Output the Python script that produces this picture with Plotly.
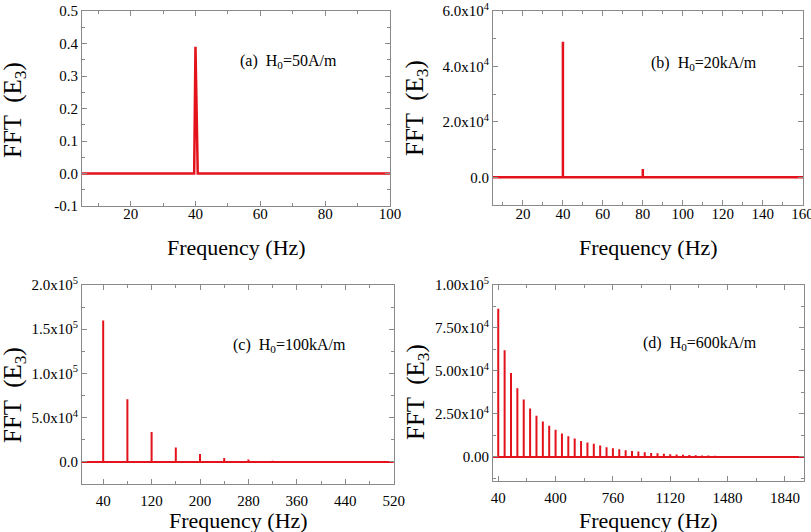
import plotly.graph_objects as go

# ---------------- data ----------------
# (a) H0 = 50 A/m : single narrow peak near 40 Hz
freq_a = [5, 39.6, 40.0, 40.3, 40.7, 100]
amp_a = [0, 0, 0.39, 0.20, 0, 0]

# (b) H0 = 20 kA/m
harm_b = [40, 80]
amp_b = [4.89e4, 3.0e3]

# (c) H0 = 100 kA/m
harm_c = [40, 80, 120, 160, 200, 240, 280, 320, 360]
amp_c = [1.60e5, 7.08e4, 3.39e4, 1.62e4, 9.0e3, 4.5e3, 2.6e3, 1.2e3, 6.0e2]

# (d) H0 = 600 kA/m : harmonics every 40 Hz up to 1480 Hz
harm_d = [40 * k for k in range(1, 38)]
amp_d = [8.62e4, 6.20e4, 4.88e4, 3.99e4, 3.34e4, 2.82e4, 2.39e4, 2.06e4, 1.81e4,
         1.58e4, 1.36e4, 1.21e4, 1.07e4, 9.3e3, 8.4e3, 7.6e3, 6.6e3, 5.6e3, 5.1e3,
         4.5e3, 3.9e3, 3.5e3, 3.1e3, 2.7e3, 2.3e3, 2.1e3, 1.9e3, 1.6e3, 1.4e3,
         1.2e3, 1.1e3, 1.0e3, 9.0e2, 8.0e2, 7.0e2, 6.0e2, 5.0e2]

labels = ["(a)  H<sub>0</sub>=50A/m", "(b)  H<sub>0</sub>=20kA/m",
          "(c)  H<sub>0</sub>=100kA/m", "(d)  H<sub>0</sub>=600kA/m"]

x_title = "Frequency (Hz)"
y_title = "FFT  (E<sub>3</sub>)"

yticks_a = [-0.1, 0.0, 0.1, 0.2, 0.3, 0.4, 0.5]
yticktext_a = ["-0.1", "0.0", "0.1", "0.2", "0.3", "0.4", "0.5"]
yticks_b = [0, 2e4, 4e4, 6e4]
yticktext_b = ["0.0", "2.0x10<sup>4</sup>", "4.0x10<sup>4</sup>", "6.0x10<sup>4</sup>"]
yticks_c = [0, 5e4, 1e5, 1.5e5, 2e5]
yticktext_c = ["0.0", "5.0x10<sup>4</sup>", "1.0x10<sup>5</sup>", "1.5x10<sup>5</sup>", "2.0x10<sup>5</sup>"]
yticks_d = [0, 2.5e4, 5e4, 7.5e4, 1e5]
yticktext_d = ["0.00", "2.50x10<sup>4</sup>", "5.00x10<sup>4</sup>", "7.50x10<sup>4</sup>", "1.00x10<sup>5</sup>"]

# ---------------- helpers ----------------
RED = "#e3121b"
FONT = "Liberation Serif, Times New Roman, DejaVu Serif, serif"
FRAME = "#8a8a8a"
W, H = 811, 532


def px_x(rx):
    return rx / W


def px_y(ry):
    return 1 - ry / H


def spikes(freqs, amps, x0, x1):
    xs, ys = [x0], [0]
    for f, a in zip(freqs, amps):
        xs += [f, f, f]
        ys += [0, a, 0]
    xs.append(x1)
    ys.append(0)
    return xs, ys


fig = go.Figure()

fig.add_trace(go.Scatter(x=freq_a, y=amp_a, mode="lines", line=dict(color=RED, width=2.5),
                         xaxis="x", yaxis="y", showlegend=False))
xb, yb = spikes(harm_b, amp_b, 5, 161)
fig.add_trace(go.Scatter(x=xb, y=yb, mode="lines", line=dict(color=RED, width=2.5),
                         xaxis="x2", yaxis="y2", showlegend=False))
xc, yc = spikes(harm_c, amp_c, 5, 520)
fig.add_trace(go.Scatter(x=xc, y=yc, mode="lines", line=dict(color=RED, width=2),
                         xaxis="x3", yaxis="y3", showlegend=False))
xd, yd = spikes(harm_d, amp_d, 5, 1960)
fig.add_trace(go.Scatter(x=xd, y=yd, mode="lines", line=dict(color=RED, width=2),
                         xaxis="x4", yaxis="y4", showlegend=False))


def xaxis(l, r, rng, dtick, tick0, minor_dtick, anchor, standoff):
    return dict(domain=[px_x(l), px_x(r)], range=rng, anchor=anchor, dtick=dtick, tick0=tick0,
                automargin=False, ticklabelstandoff=standoff, ticklabeloverflow="allow",
                showline=True, linecolor=FRAME, linewidth=1.2, mirror="ticks",
                ticks="inside", ticklen=5, tickcolor=FRAME, showgrid=False, zeroline=False,
                minor=dict(ticks="inside", ticklen=3, dtick=minor_dtick, tick0=tick0, tickcolor=FRAME),
                tickfont=dict(family=FONT, size=15, color="black"))


def yaxis(top, bottom, rng, anchor, minor_dtick, tickvals, ticktext):
    return dict(domain=[px_y(bottom), px_y(top)], range=rng, anchor=anchor, automargin=False,
                ticklabeloverflow="allow",
                showline=True, linecolor=FRAME, linewidth=1.2, mirror="ticks",
                ticks="inside", ticklen=5, tickcolor=FRAME, showgrid=False, zeroline=False,
                minor=dict(ticks="inside", ticklen=3, dtick=minor_dtick, tick0=0, tickcolor=FRAME),
                tickmode="array", tickvals=tickvals, ticktext=ticktext,
                tickfont=dict(family=FONT, size=15, color="black"))


fig.update_layout(
    width=W, height=H, margin=dict(l=0, r=0, t=0, b=0, autoexpand=False),
    paper_bgcolor="white", plot_bgcolor="white",
    font=dict(family=FONT, color="black"),
    xaxis=xaxis(82, 390, [5, 100], 20, 0, 10, "y", -6),
    yaxis=yaxis(11, 206, [-0.1, 0.5], "x", 0.05, yticks_a, yticktext_a),
    xaxis2=xaxis(493, 803, [5, 160.2], 20, 0, 10, "y2", -5),
    yaxis2=yaxis(11, 205, [-1e4, 6e4], "x2", 1e4, yticks_b, yticktext_b),
    xaxis3=xaxis(82, 394, [5, 520.5], 80, 40, 40, "y3", 3),
    yaxis3=yaxis(285, 484, [-2.5e4, 2e5], "x3", 2.5e4, yticks_c, yticktext_c),
    xaxis4=xaxis(493, 804, [7, 1960], 360, 40, 180, "y4", 3),
    yaxis4=yaxis(285, 481, [-1.4e4, 1e5], "x4", 1.25e4, yticks_d, yticktext_d),
)

# panel labels
ann_pos = [(238, 62), (649, 63), (231, 345), (641, 343)]
for txt, (px, py) in zip(labels, ann_pos):
    fig.add_annotation(x=px_x(px), y=px_y(py), xref="paper", yref="paper", text=txt,
                       showarrow=False, xanchor="left", yanchor="middle",
                       font=dict(family=FONT, size=16, color="black"))

# axis titles
xt_pos = [(236, 247), (648, 247), (238, 520), (648, 520)]
for px, py in xt_pos:
    fig.add_annotation(x=px_x(px), y=px_y(py), xref="paper", yref="paper", text=x_title,
                       showarrow=False, xanchor="center", yanchor="middle",
                       font=dict(family=FONT, size=22, color="black"))
yt_pos = [(15, 110), (417, 108), (15, 395), (417, 392)]
for px, py in yt_pos:
    fig.add_annotation(x=px_x(px), y=px_y(py), xref="paper", yref="paper", text=y_title,
                       showarrow=False, xanchor="center", yanchor="middle", textangle=-90,
                       font=dict(family=FONT, size=25, color="black"))

# remove the default 8px page margin so the figure fills the window exactly
fig.write_html("out.html", config=dict(displayModeBar=False),
               post_script="document.body.style.margin='0';document.body.style.overflow='hidden';")
